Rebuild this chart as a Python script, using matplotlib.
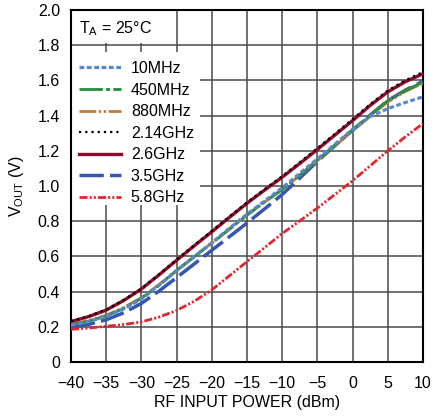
import matplotlib
matplotlib.use("Agg")
import matplotlib.pyplot as plt
from matplotlib.patches import Rectangle

plt.rcParams['font.family'] = ['Liberation Sans', 'DejaVu Sans']
plt.rcParams['font.size'] = 11.5
plt.rcParams['mathtext.fontset'] = 'custom'
plt.rcParams['mathtext.rm'] = 'Liberation Sans'
plt.rcParams['mathtext.default'] = 'rm'

# data (RF input power in dBm, VOUT in V)
p_in = [-40, -37.5, -35, -32.5, -30, -27.5, -25, -22.5, -20, -17.5, -15,
        -12.5, -10, -7.5, -5, -2.5, 0, 2.5, 5, 7.5, 10]
v_10mhz = [0.210, 0.230, 0.258, 0.302, 0.358, 0.435, 0.518, 0.598, 0.678, 0.760, 0.840,
           0.915, 0.990, 1.072, 1.155, 1.238, 1.322, 1.395, 1.440, 1.475, 1.507]
v_450mhz = [0.212, 0.232, 0.262, 0.305, 0.362, 0.437, 0.520, 0.598, 0.675, 0.755, 0.835,
            0.910, 0.980, 1.062, 1.148, 1.233, 1.318, 1.403, 1.485, 1.543, 1.590]
v_880mhz = [0.215, 0.236, 0.266, 0.310, 0.366, 0.440, 0.522, 0.600, 0.676, 0.755, 0.834,
            0.908, 0.980, 1.060, 1.145, 1.228, 1.312, 1.396, 1.478, 1.537, 1.585]
v_2140mhz = [0.232, 0.260, 0.298, 0.353, 0.418, 0.498, 0.582, 0.664, 0.745, 0.827, 0.907,
             0.982, 1.056, 1.135, 1.215, 1.297, 1.380, 1.465, 1.543, 1.601, 1.648]
v_2600mhz = [0.230, 0.258, 0.295, 0.350, 0.415, 0.495, 0.578, 0.660, 0.740, 0.822, 0.902,
             0.977, 1.050, 1.128, 1.208, 1.290, 1.372, 1.458, 1.535, 1.593, 1.638]
v_3500mhz = [0.197, 0.214, 0.240, 0.280, 0.333, 0.403, 0.480, 0.557, 0.635, 0.712, 0.790,
             0.870, 0.952, 1.045, 1.140, 1.230, 1.318, 1.403, 1.485, 1.545, 1.595]
v_5800mhz = [0.186, 0.193, 0.203, 0.213, 0.228, 0.255, 0.293, 0.345, 0.410, 0.490, 0.570,
             0.650, 0.730, 0.802, 0.875, 0.952, 1.030, 1.115, 1.200, 1.280, 1.355]

fig = plt.figure(figsize=(4.34, 4.19), dpi=100)
ax = fig.add_axes([0.1636, 0.136, 0.811, 0.840])

# curves (list order = drawing order)
l35, = ax.plot(p_in, v_3500mhz, color='#3656b0', lw=2.5, dashes=(7.0, 1.8), label='3.5GHz', zorder=3)
l880, = ax.plot(p_in, v_880mhz, color='#c27b34', lw=2.0, dashes=(6.0, 0.9, 0.9, 0.9, 0.9, 0.9), label='880MHz', zorder=4)
l450, = ax.plot(p_in, v_450mhz, color='#2f8f3f', lw=2.1, dashes=(8.0, 1.1, 1.4, 1.1), label='450MHz', zorder=5)
l10, = ax.plot(p_in, v_10mhz, color='#5b87d0', lw=2.3, dashes=(1.5, 0.8), label='10MHz', zorder=6)
l26, = ax.plot(p_in, v_2600mhz, color='#8c0a2c', lw=2.4, label='2.6GHz', zorder=7)
l214, = ax.plot(p_in, v_2140mhz, color='black', lw=1.6, dashes=(1, 1.8), label='2.14GHz', zorder=8)
l58, = ax.plot(p_in, v_5800mhz, color='#e3252f', lw=2.0, dashes=(2.9, 0.75, 0.75, 0.75, 0.75, 0.75), label='5.8GHz', zorder=9)

ax.set_xlim(-40, 10)
ax.set_ylim(0, 2.0)
ax.set_xticks(range(-40, 11, 5))
ax.set_yticks([0, 0.2, 0.4, 0.6, 0.8, 1.0, 1.2, 1.4, 1.6, 1.8, 2.0])
ax.set_yticklabels(['0', '0.2', '0.4', '0.6', '0.8', '1.0', '1.2', '1.4', '1.6', '1.8', '2.0'])
ax.tick_params(length=0, pad=8)
ax.tick_params(axis='x', pad=10)

ax.set_axisbelow(True)
ax.grid(True, color='#4a4a4a', lw=1.1)
for s in ax.spines.values():
    s.set_linewidth(1.5)

# white boxes behind the text and legend
ax.add_patch(Rectangle((-40, 1.81), 14.4, 0.19, facecolor='white', edgecolor='none', zorder=1))
ax.add_patch(Rectangle((-40, 0.89), 18.3, 0.87, facecolor='white', edgecolor='none', zorder=1))

ax.text(0.023, 0.935, r'T$_\mathrm{A}$ = 25°C', transform=ax.transAxes, va='baseline', ha='left')

ax.legend(handles=[l10, l450, l880, l214, l26, l35, l58],
          loc='upper left', bbox_to_anchor=(0.023, 0.855), frameon=False,
          borderaxespad=0, borderpad=0, handlelength=2.6, handletextpad=0.64,
          labelspacing=0.41)

ax.set_xlabel('RF INPUT POWER (dBm)', labelpad=3)
ax.set_ylabel(r'V$_\mathrm{OUT}$ (V)', labelpad=8)

plt.savefig('out.png', dpi=100)
